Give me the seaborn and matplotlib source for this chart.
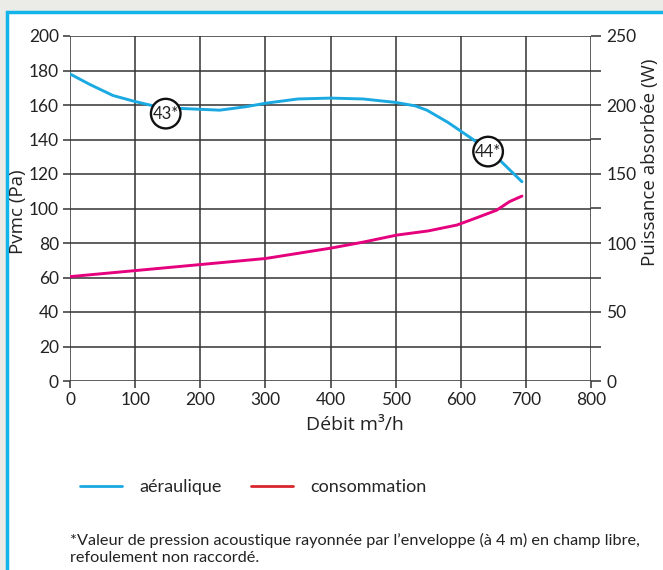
import matplotlib
matplotlib.use("Agg")
import matplotlib.pyplot as plt
import seaborn as sns
import pandas as pd
from matplotlib.lines import Line2D
from matplotlib.patches import Rectangle

# ---- data ----
aer_debit = [0, 30, 66, 100, 128, 170, 230, 270, 300, 350, 400, 450, 500, 530, 548, 580, 619, 660, 694]
aer_pvmc = [178, 172, 165.5, 162, 159.5, 158, 157, 159, 161, 163.5, 164, 163.5, 161.5, 159.5, 157, 150, 140, 128, 115.5]
cons_debit = [0, 100, 200, 300, 400, 450, 502, 550, 594, 620, 655, 675, 694]
cons_pvmc = [60.5, 64, 67.5, 71, 77, 80.5, 84.6, 87, 90.4, 94, 99, 104, 107.2]
labels_circ = ["43*", "44*"]
circ_x = [147, 642]
circ_y = [155, 133]

x_ticks = list(range(0, 801, 100))
y_ticks = list(range(0, 201, 20))
w_ticks = list(range(0, 251, 50))

BLUE = "#1aa9e1"
PINK = "#e5007d"
RED = "#d9262e"
GRID = "#333333"

sns.set_theme(style="white")
plt.rcParams['font.family'] = ['Lato', 'DejaVu Sans']

fig = plt.figure(figsize=(6.63, 5.70), dpi=100)
fig.patch.set_facecolor("#ebece7")

bg = fig.add_axes([0, 0, 1, 1], zorder=-10)
bg.set_xlim(0, 663)
bg.set_ylim(570, 0)
bg.axis("off")
bg.add_patch(Rectangle((6.5, 11.5), 700, 600, facecolor="white", edgecolor="#12b4ea",
                       linewidth=2.5))

ax = fig.add_axes([70 / 663, (570 - 381) / 570, 521 / 663, 345 / 570], zorder=1)
ax.set_facecolor("white")

df_a = pd.DataFrame({"debit": aer_debit, "pvmc": aer_pvmc})
df_c = pd.DataFrame({"debit": cons_debit, "pvmc": cons_pvmc})
sns.lineplot(data=df_a, x="debit", y="pvmc", ax=ax, color=BLUE, linewidth=2.1, zorder=3)
sns.lineplot(data=df_c, x="debit", y="pvmc", ax=ax, color=PINK, linewidth=2.1, zorder=3)

for lab, cx, cy in zip(labels_circ, circ_x, circ_y):
    ax.text(cx, cy, lab, ha="center", va="center", fontsize=12, color="#222222", zorder=5,
            bbox=dict(boxstyle="circle,pad=0.1", fc="white", ec="#111111", lw=1.7))

ax.set_xlim(0, 800)
ax.set_ylim(0, 200)
ax.set_xticks(x_ticks)
ax.set_yticks(y_ticks)
ax.grid(True, color=GRID, linewidth=1.1)
for s in ax.spines.values():
    s.set_visible(False)
ax.tick_params(axis="both", which="major", length=5, width=1.1, color=GRID, labelsize=12.5,
               labelcolor="#222222", pad=3, left=True, bottom=True)
ax.set_xlabel("")
ax.set_ylabel("")

ax2 = ax.twinx()
ax2.set_ylim(0, 250)
ax2.set_yticks(w_ticks)
ax2.set_yticks(list(range(25, 251, 50)), minor=True)
for s in ax2.spines.values():
    s.set_visible(False)
ax2.tick_params(axis="y", which="both", length=7, width=1.1, color=GRID, labelsize=12.5,
                labelcolor="#222222", pad=4, right=True)
ax2.grid(False)

lab_font = ['Open Sans', 'DejaVu Sans']
fig.text(355 / 663, 1 - 425 / 570, "Débit m³/h", ha="center", va="center", fontsize=14,
         family=lab_font, color="#222222")
fig.text(18 / 663, 1 - 212 / 570, "Pvmc (Pa)", ha="center", va="center", rotation=90,
         fontsize=13.5, family=lab_font, color="#222222")
fig.text(650 / 663, 1 - 162 / 570, "Puissance absorbée (W)", ha="center", va="center",
         rotation=90, fontsize=13.5, family=lab_font, color="#222222")

# legend
handles = [Line2D([], [], color=BLUE, lw=2), Line2D([], [], color=RED, lw=2)]
fig.legend(handles, ["aéraulique", "consommation"], loc="center left",
           bbox_to_anchor=(64 / 663, 1 - 487 / 570), ncol=2, frameon=False, fontsize=13,
           handlelength=2.3, columnspacing=1.6, handletextpad=1.0)

fig.text(70 / 663, 1 - 540 / 570,
         "*Valeur de pression acoustique rayonnée par l’enveloppe (à 4 m) en champ libre,",
         ha="left", va="center", fontsize=11.7, color="#222222")
fig.text(70 / 663, 1 - 558 / 570, "refoulement non raccordé.",
         ha="left", va="center", fontsize=11.7, color="#222222")

fig.savefig("out.png", dpi=100, facecolor=fig.get_facecolor())
